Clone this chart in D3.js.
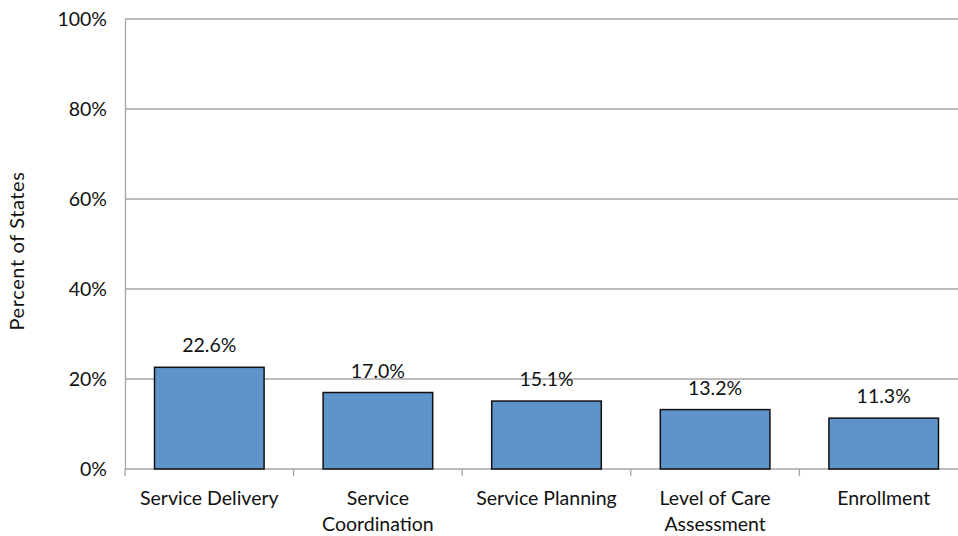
<!DOCTYPE html>
<html>
<head>
<meta charset="utf-8">
<script src="https://cdn.jsdelivr.net/npm/d3@7"></script>
<style>
  body { margin: 0; background: #fff; }
  text { font-family: Lato, "Open Sans", sans-serif; fill: #111; }
</style>
</head>
<body>
<div class="graph"></div>
<script>
// chart data
const categories = [
  ['Service Delivery'],
  ['Service', 'Coordination'],
  ['Service Planning'],
  ['Level of Care', 'Assessment'],
  ['Enrollment']
];
const values = [22.6, 17.0, 15.1, 13.2, 11.3];
const yTicks = [0, 20, 40, 60, 80, 100];

const W = 958, H = 536;
const m = { left: 125, top: 19, bottom: 469, right: 968 };
const fs = 19.5;

const svg = d3.select('.graph').append('svg')
  .attr('width', W).attr('height', H);

const keys = categories.map(c => c.join(' '));

const x = d3.scaleBand()
  .domain(keys)
  .range([m.left, m.right])
  .paddingInner(0.35)
  .paddingOuter(0.175);

const xb = d3.scaleBand().domain(keys).range([m.left, m.right]);

const y = d3.scaleLinear().domain([0, 100]).range([m.bottom, m.top]);

// gridlines
svg.append('g').selectAll('line')
  .data(yTicks.slice(1))
  .enter().append('line')
  .attr('x1', m.left).attr('x2', W)
  .attr('y1', d => y(d)).attr('y2', d => y(d))
  .attr('stroke', '#a6a6a6').attr('stroke-width', 1.3);

// y axis
const yAxis = svg.append('g')
  .attr('transform', `translate(${m.left},0)`)
  .call(d3.axisLeft(y).tickValues(yTicks).tickFormat(d => d + '%').tickSize(0).tickPadding(18));
yAxis.select('.domain').attr('stroke', '#a6a6a6').attr('stroke-width', 1.3);
yAxis.selectAll('text').attr('font-size', fs).attr('fill', '#111')
  .style('font-family', 'Lato, sans-serif');

svg.append('text')
  .attr('transform', `translate(24,251) rotate(-90)`)
  .attr('text-anchor', 'middle')
  .attr('font-size', 20)
  .attr('letter-spacing', 0.6)
  .text('Percent of States');

// x axis baseline + ticks between categories
svg.append('line')
  .attr('x1', m.left).attr('x2', W)
  .attr('y1', m.bottom).attr('y2', m.bottom)
  .attr('stroke', '#a6a6a6').attr('stroke-width', 1.3);
svg.append('g').selectAll('line')
  .data(keys)
  .enter().append('line')
  .attr('x1', d => xb(d)).attr('x2', d => xb(d))
  .attr('y1', m.bottom).attr('y2', m.bottom + 7)
  .attr('stroke', '#a6a6a6').attr('stroke-width', 1.3);

// bars
svg.append('g').selectAll('rect')
  .data(values)
  .enter().append('rect')
  .attr('x', (d, i) => x(keys[i]))
  .attr('y', d => y(d))
  .attr('width', x.bandwidth())
  .attr('height', d => y(0) - y(d))
  .attr('fill', '#5e94c9')
  .attr('stroke', '#111')
  .attr('stroke-width', 1.5);

// value labels
svg.append('g').selectAll('text')
  .data(values)
  .enter().append('text')
  .attr('x', (d, i) => x(keys[i]) + x.bandwidth() / 2)
  .attr('y', d => y(d) - 15)
  .attr('text-anchor', 'middle')
  .attr('font-size', fs)
  .text(d => d.toFixed(1) + '%');

// category labels
const cl = svg.append('g').selectAll('text')
  .data(categories)
  .enter().append('text')
  .attr('x', (d, i) => x(keys[i]) + x.bandwidth() / 2)
  .attr('y', 505)
  .attr('text-anchor', 'middle')
  .attr('font-size', fs);
cl.selectAll('tspan')
  .data(d => d)
  .enter().append('tspan')
  .attr('x', function () { return this.parentNode.getAttribute('x'); })
  .attr('dy', (d, i) => i === 0 ? 0 : 26)
  .text(d => d);
</script>
</body>
</html>
